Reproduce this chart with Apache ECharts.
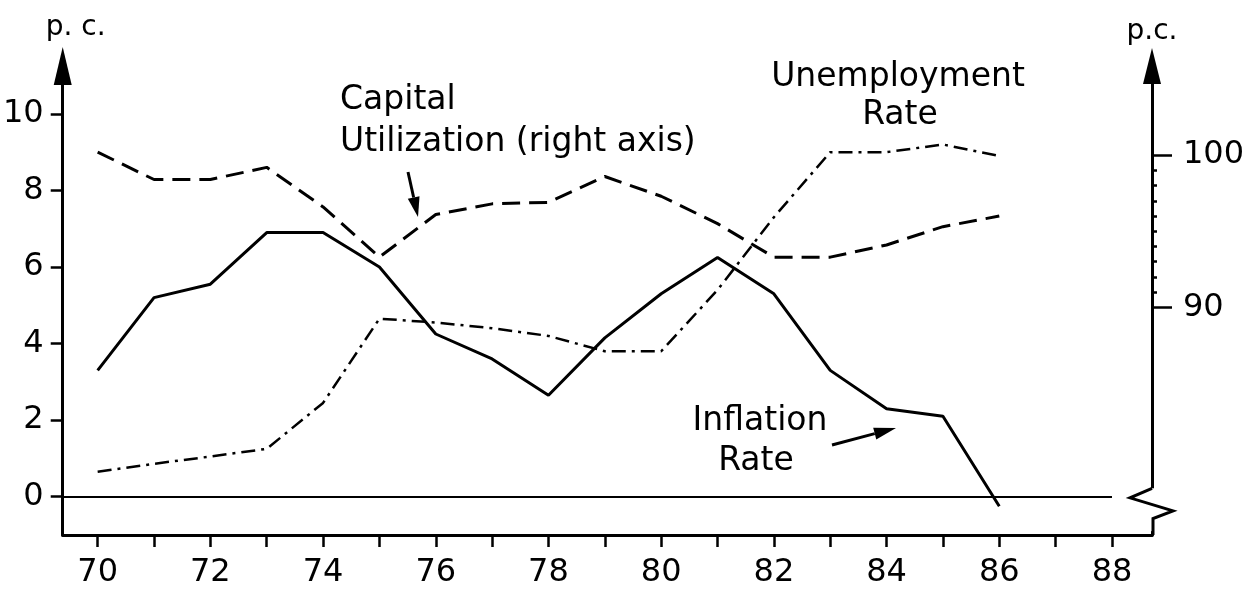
<!DOCTYPE html>
<html>
<head>
<meta charset="utf-8">
<script src="https://cdn.jsdelivr.net/npm/echarts@6/dist/echarts.min.js"></script>
<style>
html, body { margin: 0; padding: 0; background: #fff; }
#main { width: 1252px; height: 597px; }
</style>
</head>
<body>
<div id="main"></div>
<script>
var years = [70, 71, 72, 73, 74, 75, 76, 77, 78, 79, 80, 81, 82, 83, 84, 85, 86];
var inflation = [3.3, 5.2, 5.55, 6.9, 6.9, 6.0, 4.25, 3.6, 2.65, 4.15, 5.3, 6.25, 5.3, 3.3, 2.3, 2.1, -0.25];
var unemployment = [0.65, 0.86, 1.05, 1.25, 2.45, 4.65, 4.55, 4.4, 4.2, 3.8, 3.8, 5.4, 7.3, 9.0, 9.0, 9.2, 8.9];
var capitalUtil = [100.2, 98.4, 98.4, 99.2, 96.6, 93.3, 96.1, 96.8, 96.9, 98.6, 97.3, 95.5, 93.3, 93.3, 94.1, 95.3, 96.0];

var xTicks = [70, 71, 72, 73, 74, 75, 76, 77, 78, 79, 80, 81, 82, 83, 84, 85, 86, 87, 88];
var xLabels = [70, 72, 74, 76, 78, 80, 82, 84, 86, 88];
var leftLabels = [0, 2, 4, 6, 8, 10];
var rightLabels = [90, 100];
var rightMinor = [91, 92, 93, 94, 95, 96, 97, 98, 99];

var X_MIN = 69.38, X_MAX = 88.71;
var FONT = 'DejaVu Sans';

function pairs(vals) {
    return years.map(function (y, i) { return [y, vals[i]]; });
}

var chart = echarts.init(document.getElementById('main'));

chart.setOption({
    animation: false,
    backgroundColor: '#fff',
    grid: { left: 62, right: 100, top: 66, bottom: 62 },
    xAxis: {
        type: 'value',
        min: X_MIN,
        max: X_MAX,
        splitLine: { show: false },
        axisLine: { onZero: false, lineStyle: { color: '#000', width: 3 } },
        axisTick: { customValues: xTicks, length: 12, lineStyle: { color: '#000', width: 2.5 } },
        axisLabel: { customValues: xLabels, margin: 22, color: '#000', fontSize: 32, fontFamily: FONT }
    },
    yAxis: [
        {
            type: 'value',
            position: 'left',
            min: -1,
            max: 11.25,
            name: 'p. c.',
            nameLocation: 'end',
            nameGap: 24,
            nameTextStyle: { color: '#000', fontSize: 28, fontFamily: FONT, padding: [0, 0, 0, 26] },
            splitLine: { show: false },
            axisLine: { onZero: false, symbol: ['none', 'triangle'], symbolSize: [18, 38],
                lineStyle: { color: '#000', width: 3 } },
            axisTick: { customValues: leftLabels, length: 12, lineStyle: { color: '#000', width: 2.5 } },
            axisLabel: { customValues: leftLabels, margin: 19, color: '#000', fontSize: 32, fontFamily: FONT }
        },
        {
            type: 'value',
            position: 'right',
            min: 75.04,
            max: 105.86,
            name: 'p.c.',
            nameLocation: 'end',
            nameGap: 20,
            nameTextStyle: { color: '#000', fontSize: 28, fontFamily: FONT },
            splitLine: { show: false },
            axisLine: { onZero: false, symbol: ['none', 'triangle'], symbolSize: [18, 36],
                lineStyle: { color: '#000', width: 3 } },
            axisTick: { customValues: rightLabels, length: 20, lineStyle: { color: '#000', width: 2.5 } },
            axisLabel: { customValues: rightLabels, margin: 31, color: '#000', fontSize: 32, fontFamily: FONT }
        },
        {
            // minor ticks on the right axis
            type: 'value',
            position: 'right',
            min: 75.04,
            max: 105.86,
            splitLine: { show: false },
            axisLine: { show: false, onZero: false },
            axisTick: { customValues: rightMinor, length: 5, lineStyle: { color: '#000', width: 2.5 } },
            axisLabel: { show: false }
        }
    ],
    series: [
        {
            name: 'Inflation Rate',
            type: 'line',
            data: pairs(inflation),
            symbol: 'none',
            lineStyle: { color: '#000', width: 3 },
            markLine: {
                silent: true,
                symbol: 'none',
                label: { show: false },
                lineStyle: { color: '#000', width: 2, type: 'solid' },
                data: [[{ coord: [X_MIN, 0] }, { coord: [88, 0] }]]
            }
        },
        {
            name: 'Unemployment Rate',
            type: 'line',
            data: pairs(unemployment),
            symbol: 'none',
            lineStyle: { color: '#000', width: 2.5, type: [14, 6, 3, 6] }
        },
        {
            name: 'Capital Utilization',
            type: 'line',
            yAxisIndex: 1,
            data: pairs(capitalUtil),
            symbol: 'none',
            lineStyle: { color: '#000', width: 3, type: [18, 9] }
        }
    ]
});

// annotations, arrows and the break on the right axis
function arrow(x1, y1, x2, y2, len, w) {
    var dx = x2 - x1, dy = y2 - y1;
    var d = Math.sqrt(dx * dx + dy * dy);
    var ux = dx / d, uy = dy / d;
    var bx = x2 - ux * len, by = y2 - uy * len;
    return [
        { type: 'line', shape: { x1: x1, y1: y1, x2: bx, y2: by }, style: { stroke: '#000', lineWidth: 3 } },
        { type: 'polygon', shape: { points: [[x2, y2], [bx - uy * w / 2, by + ux * w / 2], [bx + uy * w / 2, by - ux * w / 2]] },
            style: { fill: '#000' } }
    ];
}

function label(text, x, y, align) {
    return {
        type: 'text', x: x, y: y,
        style: { text: text, fill: '#000', font: '33px "' + FONT + '"', align: align || 'left', verticalAlign: 'middle' }
    };
}

var xr = chart.convertToPixel({ xAxisIndex: 0 }, X_MAX);
function py(v) { return chart.convertToPixel({ yAxisIndex: 0 }, v); }

var graphics = [
    label('Capital', 340, 100),
    label('Utilization (right axis)', 340, 142),
    label('Unemployment', 898, 77, 'center'),
    label('Rate', 900, 115, 'center'),
    label('Inflation', 760, 421, 'center'),
    label('Rate', 756, 461, 'center'),
    { type: 'rect', shape: { x: xr - 4, y: py(0.22), width: 8, height: py(-0.9) - py(0.22) }, style: { fill: '#fff' }, z: 100 },
    { type: 'polyline', z: 101,
        shape: { points: [[xr, py(0.22)], [xr - 22, py(-0.03)], [xr + 21, py(-0.37)], [xr + 1, py(-0.57)], [xr + 1, py(-1)]] },
        style: { stroke: '#000', lineWidth: 3, fill: null } }
];
graphics = graphics.concat(arrow(408, 172, 418, 217, 20, 12));
graphics = graphics.concat(arrow(832, 445, 896, 428, 22, 12));

chart.setOption({ graphic: graphics });
</script>
</body>
</html>
